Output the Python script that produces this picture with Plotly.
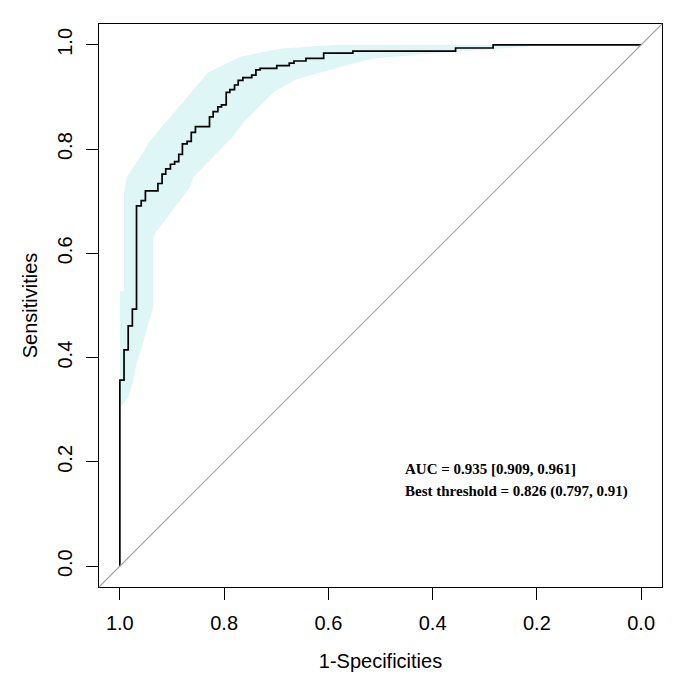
import plotly.graph_objects as go

# ROC curve (step corners: specificity, sensitivity)
roc_spec = [1.0, 0.992, 0.984, 0.976, 0.968, 0.959, 0.951, 0.927, 0.919, 0.912, 0.903, 0.895,
            0.887, 0.880, 0.871, 0.863, 0.855, 0.828, 0.821, 0.812, 0.805, 0.796, 0.789, 0.780,
            0.773, 0.764, 0.747, 0.739, 0.731, 0.699, 0.675, 0.666, 0.643, 0.609, 0.553, 0.356,
            0.284, 0.0]
roc_sens = [0.0, 0.357, 0.415, 0.461, 0.493, 0.691, 0.701, 0.720, 0.734, 0.752, 0.762, 0.771,
            0.776, 0.790, 0.810, 0.815, 0.832, 0.843, 0.862, 0.872, 0.881, 0.885, 0.909, 0.914,
            0.923, 0.932, 0.937, 0.942, 0.952, 0.955, 0.960, 0.965, 0.969, 0.974, 0.984, 0.988,
            0.994, 1.0]

# Confidence band of sensitivity
ci_upper_spec = [1.0, 0.992, 0.992, 0.987, 0.958, 0.942, 0.831, 0.769, 0.706, 0.687, 0.622, 0.577, 0.0]
ci_upper_sens = [0.528, 0.528, 0.714, 0.746, 0.790, 0.816, 0.947, 0.977, 0.990, 0.993, 0.998, 1.0, 1.0]
ci_lower_spec = [1.0, 0.984, 0.974, 0.968, 0.958, 0.949, 0.936, 0.936, 0.929, 0.866, 0.859, 0.782,
                 0.763, 0.705, 0.661, 0.603, 0.558, 0.513, 0.449, 0.360, 0.289, 0.219, 0.212, 0.0]
ci_lower_sens = [0.304, 0.323, 0.356, 0.389, 0.419, 0.452, 0.496, 0.630, 0.643, 0.726, 0.746, 0.825,
                 0.851, 0.909, 0.934, 0.950, 0.963, 0.974, 0.980, 0.987, 0.991, 0.997, 1.0, 1.0]

tick_vals = [1.0, 0.8, 0.6, 0.4, 0.2, 0.0]
tick_text = ["1.0", "0.8", "0.6", "0.4", "0.2", "0.0"]

auc_text = "AUC = 0.935 [0.909, 0.961]"
thr_text = "Best threshold = 0.826 (0.797, 0.91)"

band_x = ci_upper_spec + ci_lower_spec[::-1]
band_y = ci_upper_sens + ci_lower_sens[::-1]

fig = go.Figure()
fig.add_trace(go.Scatter(x=band_x, y=band_y, mode="lines", fill="toself",
                         fillcolor="#def6f6", line=dict(width=0, color="#def6f6"),
                         hoverinfo="skip", showlegend=False))
fig.add_trace(go.Scatter(x=roc_spec, y=roc_sens, mode="lines",
                         line=dict(color="black", width=1.7, shape="vh"),
                         showlegend=False))

fig.add_shape(type="line", xref="paper", yref="paper", x0=0, y0=0, x1=1, y1=1,
              line=dict(color="#a3a3a3", width=1.1), layer="above")

serif = dict(family="Liberation Serif", size=15, color="black")
fig.add_annotation(x=0.456, y=0.187, xref="x", yref="y", text="<b>" + auc_text + "</b>",
                   showarrow=False, xanchor="left", yanchor="middle", font=serif)
fig.add_annotation(x=0.456, y=0.143, xref="x", yref="y", text="<b>" + thr_text + "</b>",
                   showarrow=False, xanchor="left", yanchor="middle", font=serif)

axis_font = dict(family="Liberation Sans", size=20, color="black")
fig.update_layout(
    width=679, height=670,
    margin=dict(l=91, r=25, t=16, b=91),
    paper_bgcolor="white", plot_bgcolor="white",
    font=axis_font,
    xaxis=dict(range=[1.04, -0.04], tickvals=tick_vals, ticktext=tick_text,
               showgrid=False, zeroline=False, showline=True, mirror=True,
               linecolor="black", linewidth=1, ticks="outside", ticklen=12,
               tickcolor="black", tickfont=axis_font, ticklabelstandoff=6,
               automargin=False,
               title=dict(text="1-Specificities", font=axis_font, standoff=20)),
    yaxis=dict(range=[-0.04, 1.04], tickvals=tick_vals, ticktext=tick_text,
               showgrid=False, zeroline=False, showline=True, mirror=True,
               linecolor="black", linewidth=1, ticks="outside", ticklen=12,
               tickcolor="black", tickfont=axis_font, tickangle=-90, ticklabelstandoff=6,
               automargin=False,
               title=dict(text="Sensitivities", font=axis_font, standoff=11)),
)

fig.write_html("out.html")
